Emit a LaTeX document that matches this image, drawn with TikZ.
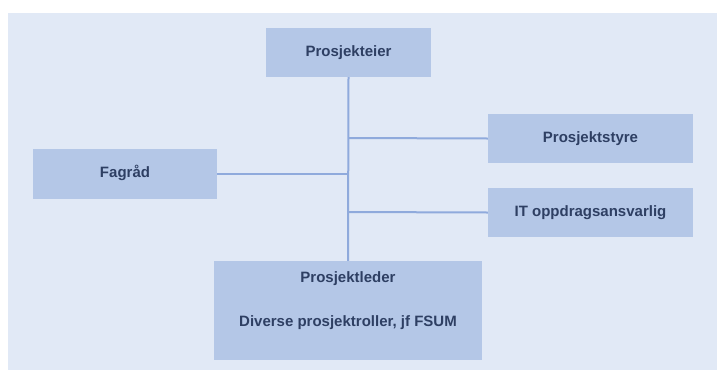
\documentclass[tikz,border=0pt]{standalone}
\usepackage{fontspec}
\setmainfont{Liberation Sans}
\definecolor{bgc}{HTML}{E1E9F6}
\definecolor{boxc}{HTML}{B4C7E7}
\definecolor{linec}{HTML}{8FAADC}
\definecolor{txtc}{HTML}{2E3F63}
\begin{document}
\begin{tikzpicture}[x=1pt,y=-1pt,
  lbl/.style={text=txtc, font=\bfseries\fontsize{15}{17}\selectfont, text height=0.72em, text depth=0pt},
  orgbox/.style={fill=boxc, draw=none, lbl, inner sep=0pt, align=center},
  conn/.style={draw=linec, line width=2pt}]
\useasboundingbox (0,0) rectangle (717,370);
\fill[white] (0,0) rectangle (717,370);
\fill[bgc] (8,13) rectangle (717,370);
\node[orgbox, minimum width=165, minimum height=49] (eier) at (348.5,52.5) {Prosjekteier};
\node[orgbox, minimum width=205, minimum height=49] (styre) at (590.5,138.5) {Prosjektstyre};
\node[orgbox, minimum width=184, minimum height=50] (fag) at (125,174) {Fagråd};
\node[orgbox, minimum width=205, minimum height=49] (it) at (590.5,212.5) {IT oppdragsansvarlig};
\node[orgbox, minimum width=268, minimum height=99] (leder) at (348,310.5) {};
\node[lbl] (lederT) at (348,279) {Prosjektleder};
\node[lbl] (divT) at (348,323) {Diverse prosjektroller, jf FSUM};
\coordinate (j1) at (348,138);
\coordinate (j2) at (348,174);
\coordinate (j3) at (348,212);
\draw[conn] (eier.south) -- (leder.north);
\draw[conn] (j1) -- (styre.west);
\draw[conn] (fag.east) -- (j2);
\draw[conn] (j3) -- (it.west);
\end{tikzpicture}
\end{document}
